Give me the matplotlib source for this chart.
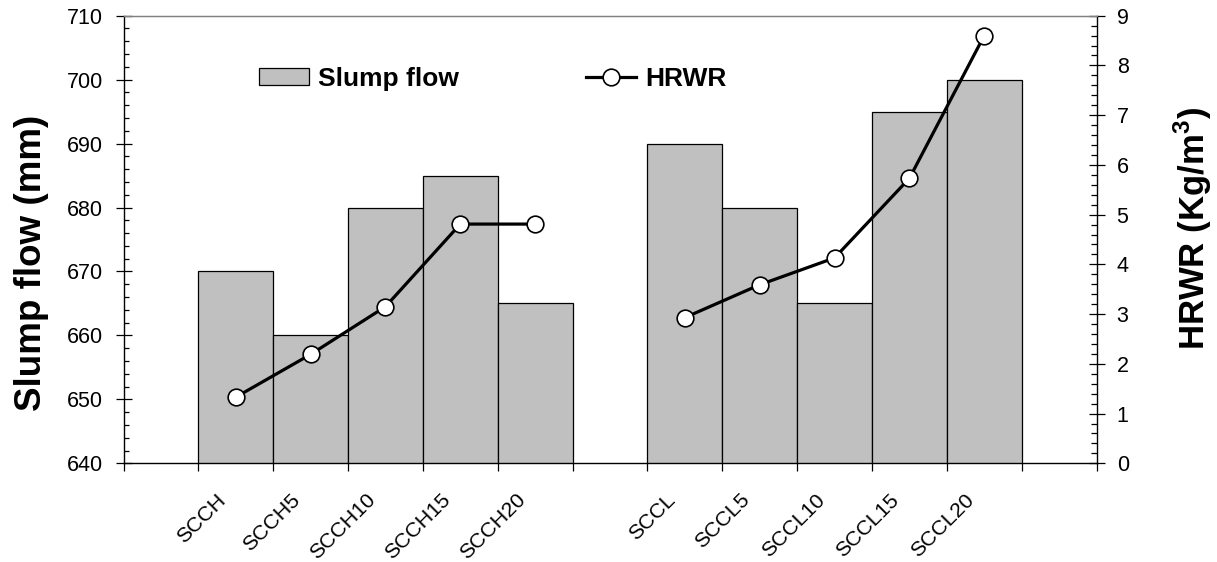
import numpy as np
import matplotlib
matplotlib.use("Agg")
import matplotlib.pyplot as plt
from matplotlib.ticker import FixedLocator, MultipleLocator, NullFormatter
from matplotlib.transforms import ScaledTranslation

plt.rcParams['font.family'] = ['Liberation Sans', 'DejaVu Sans']
plt.rcParams['mathtext.fontset'] = 'custom'
plt.rcParams['mathtext.rm'] = 'Liberation Sans'
plt.rcParams['mathtext.bf'] = 'Liberation Sans:bold'

# ---- data ----
categories = ["", "SCCH", "SCCH5", "SCCH10", "SCCH15", "SCCH20", "",
              "SCCL", "SCCL5", "SCCL10", "SCCL15", "SCCL20", ""]
slump_flow = [np.nan, 670, 660, 680, 685, 665, np.nan,
              690, 680, 665, 695, 700, np.nan]
hrwr = [np.nan, 1.33, 2.19, 3.15, 4.81, 4.81, np.nan,
        2.93, 3.59, 4.13, 5.73, 8.60, np.nan]

x = np.arange(len(categories))

fig = plt.figure(figsize=(12.17, 5.62), dpi=100)
ax = fig.add_axes([123.5 / 1217, 1 - 463.3 / 562, (1096.5 - 123.5) / 1217, (463.3 - 15.7) / 562])

bars = ax.bar(x, slump_flow, width=1.0, color='#C0C0C0', edgecolor='black',
              linewidth=0.9, label='Slump flow')
ax.set_xlim(-0.5, len(categories) - 0.5)
ax.set_ylim(640, 710)

# x ticks at category boundaries, labels at centers
ax.xaxis.set_major_locator(FixedLocator(np.arange(len(categories) + 1) - 0.5))
ax.xaxis.set_major_formatter(NullFormatter())
ax.set_xticks(x, categories, minor=True)
ax.tick_params(axis='x', which='major', direction='out', length=6, width=0.9)
ax.tick_params(axis='x', which='minor', length=0, pad=20, labelsize=15.3)
offset = ScaledTranslation(-13 / 100, -6 / 100, fig.dpi_scale_trans)
for lbl in ax.get_xticklabels(minor=True):
    lbl.set_rotation(45)
    lbl.set_ha('right')
    lbl.set_va('center')
    lbl.set_rotation_mode('anchor')
    lbl.set_transform(lbl.get_transform() + offset)

ax.yaxis.set_major_locator(MultipleLocator(10))
ax.yaxis.set_minor_locator(MultipleLocator(2))
ax.tick_params(axis='y', which='major', direction='inout', length=11, width=0.9,
               labelsize=15.5, pad=9)
ax.tick_params(axis='y', which='minor', direction='in', length=3.8, width=0.9)

ax.set_ylabel('Slump flow (mm)', fontsize=26.5, fontweight='bold')
ax.yaxis.set_label_coords(-0.077, 0.447)

for s in ['left', 'bottom']:
    ax.spines[s].set_linewidth(1.0)
ax.spines['top'].set_color('#808080')
ax.spines['top'].set_linewidth(0.9)
ax.spines['right'].set_visible(False)

ax2 = ax.twinx()
line, = ax2.plot(x, hrwr, color='black', linewidth=2.3, marker='o',
                 markersize=12, markerfacecolor='white', markeredgecolor='black',
                 markeredgewidth=1.2, label='HRWR', zorder=5)
ax2.set_ylim(0, 9)
ax2.yaxis.set_major_locator(MultipleLocator(1))
ax2.yaxis.set_minor_locator(MultipleLocator(0.2))
ax2.tick_params(axis='y', which='major', direction='inout', length=11, width=0.9,
                labelsize=15.5, pad=9)
ax2.tick_params(axis='y', which='minor', direction='in', length=4.2, width=0.9)
ax2.spines['left'].set_visible(False)
ax2.spines['bottom'].set_visible(False)
ax2.spines['top'].set_color('#808080')
ax2.spines['top'].set_linewidth(0.9)
ax2.spines['right'].set_linewidth(1.0)
ax2.set_ylabel(r'HRWR (Kg/m$^\mathregular{3}$)', fontsize=25, fontweight='bold')
ax2.yaxis.set_label_coords(1.0776, 0.525)

leg = fig.legend([bars, line], ['Slump flow', 'HRWR'], loc='upper left',
                 bbox_to_anchor=(259 / 1217, 1 - 67 / 562), ncol=2, frameon=False,
                 prop={'weight': 'bold', 'size': 19}, handlelength=1.9,
                 handleheight=0.6, handletextpad=0.35, columnspacing=4.8,
                 borderpad=0, borderaxespad=0)

fig.savefig('out.png', dpi=100)
